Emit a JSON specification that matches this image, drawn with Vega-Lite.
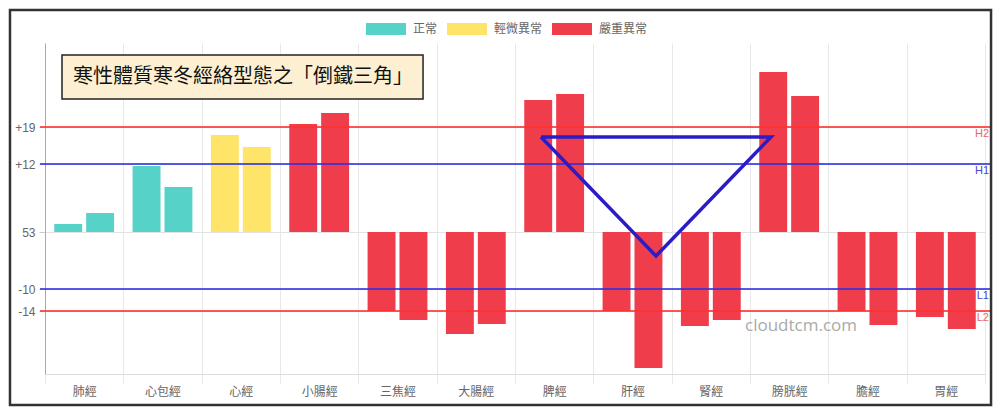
{
  "$schema": "https://vega.github.io/schema/vega-lite/v6.json",
  "width": 940,
  "height": 331,
  "autosize": {"type": "none"},
  "padding": {"left": 45, "top": 43, "right": 15, "bottom": 41},
  "background": "white",
  "config": {"view": {"stroke": null}, "font": "Noto Sans CJK TC"},
  "datasets": {
    "bars": [
      {"meridian": "肺經", "idx": 1, "v": 8, "level": "正常"},
      {"meridian": "肺經", "idx": 2, "v": 19, "level": "正常"},
      {"meridian": "心包經", "idx": 1, "v": 66, "level": "正常"},
      {"meridian": "心包經", "idx": 2, "v": 45, "level": "正常"},
      {"meridian": "心經", "idx": 1, "v": 97, "level": "輕微異常"},
      {"meridian": "心經", "idx": 2, "v": 85, "level": "輕微異常"},
      {"meridian": "小腸經", "idx": 1, "v": 108, "level": "嚴重異常"},
      {"meridian": "小腸經", "idx": 2, "v": 119, "level": "嚴重異常"},
      {"meridian": "三焦經", "idx": 1, "v": -79, "level": "嚴重異常"},
      {"meridian": "三焦經", "idx": 2, "v": -88, "level": "嚴重異常"},
      {"meridian": "大腸經", "idx": 1, "v": -102, "level": "嚴重異常"},
      {"meridian": "大腸經", "idx": 2, "v": -92, "level": "嚴重異常"},
      {"meridian": "脾經", "idx": 1, "v": 132, "level": "嚴重異常"},
      {"meridian": "脾經", "idx": 2, "v": 138, "level": "嚴重異常"},
      {"meridian": "肝經", "idx": 1, "v": -79, "level": "嚴重異常"},
      {"meridian": "肝經", "idx": 2, "v": -136, "level": "嚴重異常"},
      {"meridian": "腎經", "idx": 1, "v": -94, "level": "嚴重異常"},
      {"meridian": "腎經", "idx": 2, "v": -88, "level": "嚴重異常"},
      {"meridian": "膀胱經", "idx": 1, "v": 160, "level": "嚴重異常"},
      {"meridian": "膀胱經", "idx": 2, "v": 136, "level": "嚴重異常"},
      {"meridian": "膽經", "idx": 1, "v": -79, "level": "嚴重異常"},
      {"meridian": "膽經", "idx": 2, "v": -93, "level": "嚴重異常"},
      {"meridian": "胃經", "idx": 1, "v": -85, "level": "嚴重異常"},
      {"meridian": "胃經", "idx": 2, "v": -97, "level": "嚴重異常"}
    ],
    "lines": [
      {"name": "H2", "v": 105},
      {"name": "H1", "v": 68},
      {"name": "L1", "v": -57},
      {"name": "L2", "v": -79}
    ],
    "tri": [
      {"x": 6.332, "y": 95, "o": 1},
      {"x": 9.268, "y": 95, "o": 2},
      {"x": 7.8, "y": -24, "o": 3},
      {"x": 6.332, "y": 95, "o": 4}
    ]
  },
  "layer": [
    {
      "data": {"name": "bars"},
      "mark": {"type": "bar"},
      "encoding": {
        "x": {
          "field": "meridian", "type": "nominal", "sort": null,
          "scale": {"paddingInner": 0, "paddingOuter": 0},
          "axis": {
            "title": null, "labelAngle": 0, "tickBand": "extent",
            "grid": true, "gridColor": "#e8e8e8", "tickColor": "#e8e8e8", "tickSize": 9,
            "domainColor": "#dddddd", "labelColor": "#666666", "labelFontSize": 12,
            "labelPadding": 3, "labelFont": "Noto Sans CJK TC"
          }
        },
        "xOffset": {"field": "idx", "type": "nominal", "scale": {"paddingInner": 0.125, "paddingOuter": 0.29}},
        "y": {
          "field": "v", "type": "quantitative",
          "scale": {"domain": [-142, 189], "nice": false, "zero": true},
          "axis": {
            "title": null, "values": [105, 68, 0, -57, -79],
            "labelExpr": "datum.value==105?'+19':datum.value==68?'+12':datum.value==0?'53':datum.value==-57?'-10':'-14'",
            "grid": true, "gridColor": "#e2e2e2", "domainColor": "#aaaaaa",
            "tickSize": 6, "labelPadding": 4, "labelColor": "#666666", "labelFontSize": 12,
            "labelFont": "Liberation Sans",
            "tickWidth": 1,
            "tickColor": "#cccccc"
          }
        },
        "color": {
          "field": "level", "type": "nominal",
          "scale": {"domain": ["正常", "輕微異常", "嚴重異常"], "range": ["#57d2c9", "#ffe46a", "#f03d4c"]},
          "legend": {
            "orient": "none", "legendX": 320, "legendY": -35, "direction": "horizontal", "title": null,
            "symbolType": "M-1,-0.3L1,-0.3L1,0.3L-1,0.3Z", "symbolSize": 1600, "symbolOpacity": 1,
            "labelFontSize": 12, "labelColor": "#666666", "labelOffset": 6, "columnPadding": 8,
            "labelFont": "Noto Sans CJK TC"
          }
        }
      }
    },
    {
      "data": {"name": "lines"},
      "mark": {"type": "rule", "strokeWidth": 2, "opacity": 0.8},
      "encoding": {
        "x": {"datum": -0.064, "type": "quantitative", "scale": {"domain": [0, 12], "nice": false, "zero": false}, "axis": null},
        "x2": {"datum": 12.064},
        "y": {"field": "v", "type": "quantitative"},
        "color": {"condition": {"test": "datum.name=='H2'||datum.name=='L2'", "value": "#ff3030"}, "value": "#3030e0"}
      }
    },
    {
      "data": {"name": "lines"},
      "mark": {"type": "text", "align": "right", "baseline": "middle", "dy": 7, "dx": 4, "fontSize": 11, "font": "Liberation Sans"},
      "encoding": {
        "x": {"datum": 12, "type": "quantitative", "scale": {"domain": [0, 12], "nice": false, "zero": false}, "axis": null},
        "y": {"field": "v", "type": "quantitative"},
        "text": {"field": "name"},
        "color": {"condition": {"test": "datum.name=='H2'||datum.name=='L2'", "value": "#ee6666"}, "value": "#4848cc"}
      }
    },
    {
      "data": {"name": "tri"},
      "mark": {"type": "line", "strokeWidth": 3.5, "color": "#2a1dc8", "strokeJoin": "miter"},
      "encoding": {
        "x": {"field": "x", "type": "quantitative", "scale": {"domain": [0, 12], "nice": false, "zero": false}, "axis": null},
        "y": {"field": "y", "type": "quantitative"},
        "order": {"field": "o", "type": "quantitative"}
      }
    },
    {
      "data": {"values": [{}]},
      "mark": {"type": "rect", "filled": false, "stroke": "#333333", "strokeWidth": 2.5},
      "encoding": {
        "x": {"datum": -0.447, "type": "quantitative", "scale": {"domain": [0, 12], "nice": false, "zero": false}, "axis": null},
        "x2": {"datum": 12.077},
        "y": {"datum": 222, "type": "quantitative"},
        "y2": {"datum": -173}
      }
    },
    {
      "data": {"values": [{}]},
      "mark": {"type": "rect", "fill": "#fdf0d2", "stroke": "#222222", "strokeWidth": 1.5},
      "encoding": {
        "x": {"datum": 0.217, "type": "quantitative", "scale": {"domain": [0, 12], "nice": false, "zero": false}, "axis": null},
        "x2": {"datum": 4.826},
        "y": {"datum": 177, "type": "quantitative"},
        "y2": {"datum": 133}
      }
    },
    {
      "data": {"values": [{"t": "寒性體質寒冬經絡型態之「倒鐵三角」"}]},
      "mark": {"type": "text", "align": "left", "baseline": "middle", "fontSize": 20, "color": "#111111", "font": "Noto Sans CJK TC"},
      "encoding": {
        "x": {"datum": 0.357, "type": "quantitative", "scale": {"domain": [0, 12], "nice": false, "zero": false}, "axis": null},
        "y": {"datum": 155, "type": "quantitative"},
        "text": {"field": "t"}
      }
    },
    {
      "data": {"values": [{"t": "cloudtcm.com"}]},
      "mark": {"type": "text", "align": "left", "baseline": "middle", "fontSize": 17, "color": "#aaaaaa", "font": "Open Sans"},
      "encoding": {
        "x": {"datum": 8.936, "type": "quantitative", "scale": {"domain": [0, 12], "nice": false, "zero": false}, "axis": null},
        "y": {"datum": -94, "type": "quantitative"},
        "text": {"field": "t"}
      }
    }
  ],
  "resolve": {"scale": {"x": "independent"}}
}
